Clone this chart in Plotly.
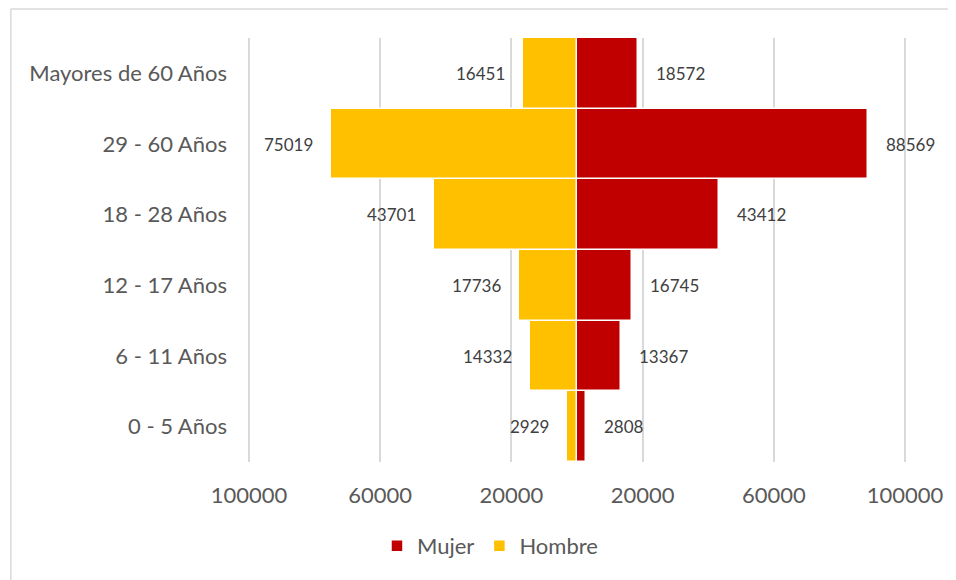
import plotly.graph_objects as go

categories = ["0 - 5 Años", "6 - 11 Años", "12 - 17 Años", "18 - 28 Años", "29 - 60 Años", "Mayores de 60 Años"]
hombre = [2929, 14332, 17736, 43701, 75019, 16451]
mujer = [2808, 13367, 16745, 43412, 88569, 18572]
tick_vals = [-100000, -60000, -20000, 20000, 60000, 100000]
tick_text = ["100000", "60000", "20000", "20000", "60000", "100000"]

FONT = "Lato"
OFF = 8  # page body margin
EXT = 1500
scale = (905 - 249) / 200000.0
W, H = 956 - OFF, 580 - OFF
L = (249 - OFF) - EXT * scale
T = 38 - OFF
R = W - ((905 - OFF) + EXT * scale)
B = H - (462 - OFF)
pw, ph = W - L - R, H - T - B

fig = go.Figure()
fig.add_trace(go.Bar(
    y=categories, x=mujer, orientation="h", name="Mujer",
    marker=dict(color="#C00000", line=dict(color="white", width=1.5)),
))
fig.add_trace(go.Bar(
    y=categories, x=[-v for v in hombre], orientation="h", name="Hombre",
    marker=dict(color="#FFC000", line=dict(color="white", width=1.5)),
))

ann = []
for c, v in zip(categories, mujer):
    ann.append(dict(x=v, y=c, text=str(v), showarrow=False, xanchor="left", xshift=16,
                    font=dict(family=FONT, size=17, color="#404040")))
for c, v in zip(categories, hombre):
    ann.append(dict(x=-v, y=c, text=str(v), showarrow=False, xanchor="right", xshift=-16,
                    font=dict(family=FONT, size=17, color="#404040")))

def px_x(x):
    return (x - OFF - L) / pw

def px_y(y):
    return (T + ph - (y - OFF)) / ph

fig.update_layout(
    width=W, height=H,
    margin=dict(l=L, r=R, t=T, b=B, autoexpand=False),
    barmode="relative", bargap=0,
    paper_bgcolor="white", plot_bgcolor="white",
    font=dict(family=FONT, color="#595959"),
    annotations=ann,
    legend=dict(orientation="h", x=px_x(490), y=px_y(546),
                xanchor="center", yanchor="middle",
                font=dict(family=FONT, size=22, color="#595959"), traceorder="normal"),
    shapes=[
        dict(type="line", xref="paper", yref="paper",
             x0=px_x(11), x1=px_x(1200), y0=px_y(9), y1=px_y(9),
             line=dict(color="#D9D9D9", width=1.5), layer="below"),
        dict(type="line", xref="paper", yref="paper",
             x0=px_x(11), x1=px_x(11), y0=px_y(9), y1=px_y(900),
             line=dict(color="#D9D9D9", width=1.5), layer="below"),
    ],
)
fig.update_xaxes(range=[-100000 - EXT, 100000 + EXT], tickvals=tick_vals, ticktext=tick_text,
                 showgrid=True, gridcolor="#D9D9D9", gridwidth=1.5,
                 zeroline=True, zerolinecolor="#D9D9D9", zerolinewidth=1.5,
                 showline=False, ticks="", ticklabelstandoff=18,
                 tickfont=dict(family=FONT, size=22, color="#595959"))
fig.update_yaxes(categoryorder="array", categoryarray=categories,
                 showgrid=False, showline=False, ticks="", ticklabelstandoff=16,
                 tickfont=dict(family=FONT, size=22, color="#595959"))

fig.write_html("out.html")
